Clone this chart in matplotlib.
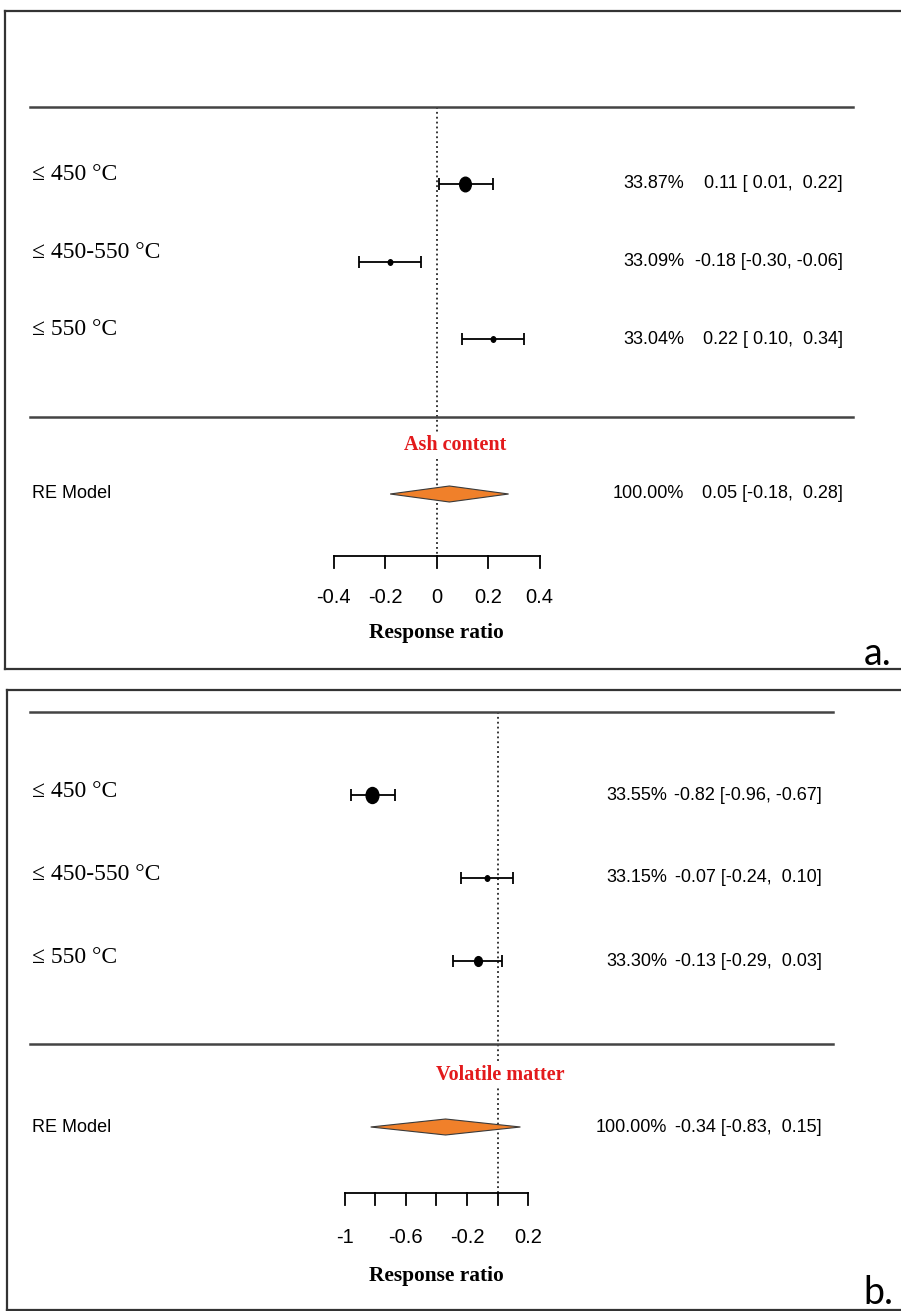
import matplotlib
matplotlib.use("Agg")
import matplotlib.pyplot as plt
from matplotlib.path import Path
from matplotlib.transforms import Affine2D
from matplotlib.patches import Polygon

W, H = 901, 1311

labels = ["\u2264 450 \u00b0C", "\u2264 450-550 \u00b0C", "\u2264 550 \u00b0C"]

# panel a: ash content
est_a = [0.11, -0.18, 0.22]
lo_a = [0.01, -0.30, 0.10]
hi_a = [0.22, -0.06, 0.34]
wt_a = [33.87, 33.09, 33.04]
re_a = (0.05, -0.18, 0.28)
ticks_a = [-0.4, -0.2, 0, 0.2, 0.4]
ticklab_a = ["-0.4", "-0.2", "0", "0.2", "0.4"]

# panel b: volatile matter
est_b = [-0.82, -0.07, -0.13]
lo_b = [-0.96, -0.24, -0.29]
hi_b = [-0.67, 0.10, 0.03]
wt_b = [33.55, 33.15, 33.30]
re_b = (-0.34, -0.83, 0.15)
ticks_b = [-1.0, -0.8, -0.6, -0.4, -0.2, 0, 0.2]
ticklab_b = ["-1", "", "-0.6", "", "-0.2", "", "0.2"]

SERIF = ["Liberation Serif", "DejaVu Serif"]
SANS = ["Liberation Sans", "DejaVu Sans"]
FS = 13.0  # annotation text size

fig = plt.figure(figsize=(W / 100, H / 100), dpi=100)

# slightly tall ellipse used for the study markers
ell = Path.unit_circle().transformed(Affine2D().scale(0.8, 1.0))


def fmt_ci(e, l, h):
    return "%5.2f [%5.2f, %5.2f]" % (e, l, h)


def panel(box, x0, ppu, y1, ppr, est, lo, hi, wt, re, ticks, ticklab,
          title, title_px, tag, tag_y, msizes, lab_dy, pct_px, ci_px, line_px):
    left, top, right, bottom = box
    ax = fig.add_axes([left / W, 1 - bottom / H, (right - left) / W, (bottom - top) / H])
    ax.set_xlim((left - x0) / ppu, (right - x0) / ppu)
    ax.set_ylim(1 - (bottom - y1) / ppr, 1 + (y1 - top) / ppr)
    ax.set_xticks([])
    ax.set_yticks([])
    for s in ax.spines.values():
        s.set_linewidth(1.6)
        s.set_color("#333333")

    px = lambda p: (p - x0) / ppu
    k = len(est)
    ys = [k - i for i in range(k)]

    # separator lines
    for yl in (k + 1, 0):
        ax.plot([px(line_px[0]), px(line_px[1])], [yl, yl], color="#444444", lw=1.8)

    # reference line at zero
    y_axis = -1.8
    ax.plot([0, 0], [k + 1, y_axis], color="black", lw=1.1, ls=(0, (1.2, 2.0)), zorder=1)

    # study estimates
    xerr = [[e - l for e, l in zip(est, lo)], [h - e for e, h in zip(est, hi)]]
    ax.errorbar(est, ys, xerr=xerr, fmt="none", ecolor="black", elinewidth=1.3,
                capsize=4, capthick=1.3, zorder=3)
    for e, y, ms in zip(est, ys, msizes):
        ax.plot(e, y, marker=ell, ms=ms, color="black", ls="none", zorder=4)

    for i, y in enumerate(ys):
        ax.text(px(32), y + lab_dy, labels[i], family=SERIF, fontsize=17, va="center", ha="left")
        ax.text(px(pct_px), y, "%.2f%%" % wt[i], family=SANS, fontsize=FS, va="center", ha="right")
        ax.text(px(ci_px), y, fmt_ci(est[i], lo[i], hi[i]), family=SANS, fontsize=FS,
                va="center", ha="right")

    # summary diamond
    e, l, h = re
    hh = 8.0 / ppr
    ax.add_patch(Polygon([(l, -1), (e, -1 + hh), (h, -1), (e, -1 - hh)], closed=True,
                         facecolor="#f0802a", edgecolor="#3a3a3a", lw=0.8, zorder=4))
    ax.text(px(32), -1, "RE Model", family=SANS, fontsize=FS, va="center", ha="left")
    ax.text(px(pct_px), -1, "100.00%", family=SANS, fontsize=FS, va="center", ha="right")
    ax.text(px(ci_px), -1, fmt_ci(e, l, h), family=SANS, fontsize=FS, va="center", ha="right")

    ax.text(px(title_px), -0.37, title, family=SERIF, fontsize=14.5, fontweight="bold",
            color="#e31a1c", ha="center", va="center", zorder=5,
            bbox=dict(facecolor="white", edgecolor="none", pad=2))

    # x axis
    tk = 12.0 / ppr
    ax.plot([ticks[0], ticks[-1]], [y_axis, y_axis], color="black", lw=1.3)
    for t, tl in zip(ticks, ticklab):
        ax.plot([t, t], [y_axis, y_axis - tk], color="black", lw=1.3)
        if tl:
            ax.text(t, -2.33, tl, family=SANS, fontsize=14.5, ha="center", va="center")
    ax.text((ticks[0] + ticks[-1]) / 2, -2.79, "Response ratio", family=SERIF, fontsize=15.4,
            fontweight="bold", ha="center", va="center")

    ax.text(px(878), tag_y, tag, family=["Lato", "DejaVu Sans"],
            fontsize=27, ha="center", va="center")
    return ax


panel((5, 11, 908, 669), 436.5, 257.5, 339, 77.5, est_a, lo_a, hi_a, wt_a, re_a,
      ticks_a, ticklab_a, "Ash content", 455, "a.", -3.06, [10.5, 4, 4], 0.12, 684, 843, (30, 853))
panel((7, 690, 908, 1310), 497.5, 152.8, 961, 83.0, est_b, lo_b, hi_b, wt_b, re_b,
      ticks_b, ticklab_b, "Volatile matter", 500, "b.", -3.0, [11.5, 4, 7], 0.04, 667, 822, (30, 833))

fig.savefig("out.png", dpi=100)
